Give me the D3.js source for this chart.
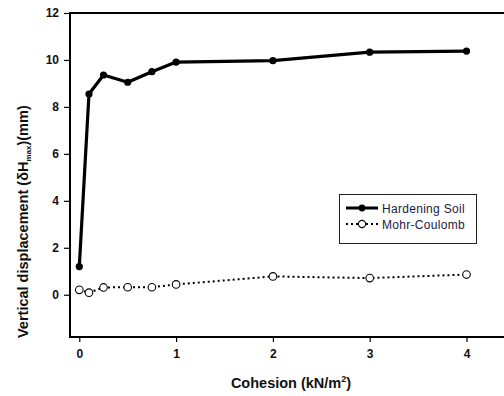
<!DOCTYPE html>
<html><head><meta charset="utf-8">
<script src="https://cdn.jsdelivr.net/npm/d3@7/dist/d3.min.js"></script>
<style>body{margin:0;background:#fff}svg{display:block}</style>
</head><body>
<svg id="c" width="504" height="396"></svg>
<script>
const cohesion = [0, 0.1, 0.25, 0.5, 0.75, 1, 2, 3, 4];
const hardeningSoil = [1.2, 8.55, 9.36, 9.05, 9.5, 9.91, 9.97, 10.33, 10.38];
const mohrCoulomb = [0.21, 0.09, 0.31, 0.32, 0.32, 0.44, 0.78, 0.71, 0.86];
const xTicks = [0, 1, 2, 3, 4];
const yTicks = [0, 2, 4, 6, 8, 10, 12];
const seriesNames = ["Hardening Soil", "Mohr-Coulomb"];

const svg = d3.select("#c");
const L = 70, R = 512, T = 13, B = 337;
const x = d3.scaleLinear().domain([-0.096, 4.47]).range([L, R]);
const y = d3.scaleLinear().domain([-1.8, 12]).range([B, T]);
const font = "Arial, 'Liberation Sans', sans-serif";

// frame
svg.append("rect").attr("x", L).attr("y", T).attr("width", R - L).attr("height", B - T)
  .attr("fill", "none").attr("stroke", "#000").attr("stroke-width", 2);

// axes
const xAx = svg.append("g").attr("transform", `translate(0,${B})`)
  .call(d3.axisBottom(x).tickValues(xTicks).tickSize(5).tickPadding(7).tickFormat(d3.format("d")));
const yAx = svg.append("g").attr("transform", `translate(${L},0)`)
  .call(d3.axisLeft(y).tickValues(yTicks).tickSize(6).tickPadding(5).tickFormat(d3.format("d")));
[xAx, yAx].forEach(g => {
  g.select(".domain").remove();
  g.selectAll(".tick line").attr("stroke", "#000").attr("stroke-width", 1.2);
  g.selectAll("text").attr("font-family", font).attr("font-size", 12).attr("font-weight", "bold").attr("fill", "#111");
});

// lines
const hsData = cohesion.map((c, i) => [c, hardeningSoil[i]]);
const mcData = cohesion.map((c, i) => [c, mohrCoulomb[i]]);
const line = d3.line().x(d => x(d[0])).y(d => y(d[1]));

svg.append("path").datum(mcData).attr("d", line).attr("fill", "none")
  .attr("stroke", "#000").attr("stroke-width", 2).attr("stroke-dasharray", "2,3");
svg.append("path").datum(hsData).attr("d", line).attr("fill", "none")
  .attr("stroke", "#000").attr("stroke-width", 3.2).attr("stroke-linejoin", "round");

svg.selectAll(".hs").data(hsData).enter().append("circle")
  .attr("cx", d => x(d[0])).attr("cy", d => y(d[1])).attr("r", 3.6).attr("fill", "#000");
svg.selectAll(".mc").data(mcData).enter().append("circle")
  .attr("cx", d => x(d[0])).attr("cy", d => y(d[1])).attr("r", 3.8)
  .attr("fill", "#fff").attr("stroke", "#000").attr("stroke-width", 1.1);

// legend
const lg = svg.append("g");
lg.append("rect").attr("x", 339.5).attr("y", 194.5).attr("width", 137).attr("height", 49)
  .attr("fill", "#fff").attr("stroke", "#222").attr("stroke-width", 1);
const rows = [208, 224];
rows.forEach((ry, i) => {
  lg.append("line").attr("x1", 346).attr("x2", 378).attr("y1", ry).attr("y2", ry)
    .attr("stroke", "#000").attr("stroke-width", i === 0 ? 3 : 2)
    .attr("stroke-dasharray", i === 0 ? null : "2,3");
  const m = lg.append("circle").attr("cx", 362).attr("cy", ry).attr("r", i === 0 ? 3.4 : 3.6);
  if (i === 0) m.attr("fill", "#000");
  else m.attr("fill", "#fff").attr("stroke", "#000").attr("stroke-width", 1.1);
  lg.append("text").attr("x", 382).attr("y", ry + 4.5).text(seriesNames[i])
    .attr("font-family", font).attr("font-size", 12).attr("letter-spacing", 0.3).attr("fill", "#1a1a44");
});

// axis titles
const xt = svg.append("text").attr("x", 291).attr("y", 388).attr("text-anchor", "middle")
  .attr("font-family", font).attr("font-size", 14.5).attr("font-weight", "bold").attr("fill", "#111");
xt.append("tspan").text("Cohesion (kN/m");
xt.append("tspan").attr("font-size", 9).attr("dy", -6).text("2");
xt.append("tspan").attr("dy", 6).text(")");

const yt = svg.append("text").attr("transform", "translate(28,338) rotate(-90)")
  .attr("text-anchor", "start")
  .attr("font-family", font).attr("font-size", 14.5).attr("font-weight", "bold").attr("fill", "#111");
yt.append("tspan").text("Vertical displacement (δH");
yt.append("tspan").attr("font-size", 8).attr("dy", 3).text("max");
yt.append("tspan").attr("dy", -3).text(")(mm)");
</script>
</body></html>
